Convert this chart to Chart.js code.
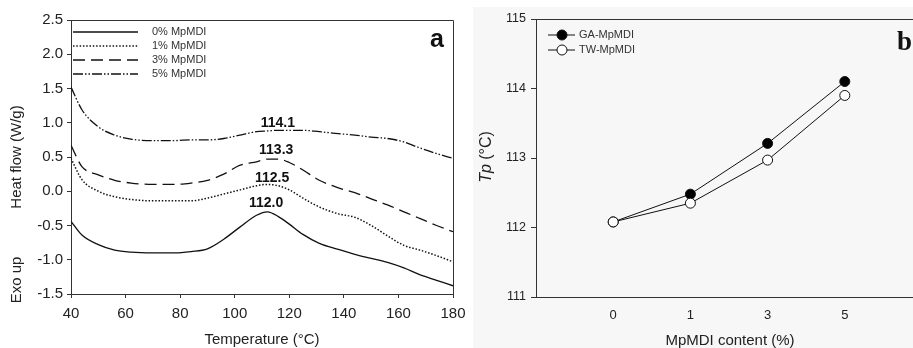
<!DOCTYPE html>
<html>
<head>
<meta charset="utf-8">
<script src="https://cdn.jsdelivr.net/npm/chart.js@4.4.1/dist/chart.umd.min.js"></script>
<style>
  html, body { margin: 0; padding: 0; background: #fff; overflow: hidden; width: 913px; height: 348px; }
  #wrap { position: relative; width: 913px; height: 348px; overflow: hidden; }
  canvas { position: absolute; top: 0; }
  #chartA { left: 0; }
  #chartB { left: 460px; }
</style>
</head>
<body>
<div id="wrap">
  <canvas id="chartA" width="480" height="348"></canvas>
  <canvas id="chartB" width="480" height="348"></canvas>
</div>
<script>
// Panel a - DSC curves
const temps = [40, 44, 50, 56, 62, 70, 78, 84, 90, 96, 102, 108, 112, 116, 120, 125, 131, 138, 144, 150, 156, 162, 168, 174, 180];
const flow0 = [-0.44, -0.64, -0.78, -0.86, -0.89, -0.90, -0.90, -0.88, -0.84, -0.70, -0.52, -0.35, -0.30, -0.37, -0.48, -0.63, -0.76, -0.85, -0.92, -0.98, -1.04, -1.12, -1.22, -1.30, -1.38];
const flow1 = [0.48, 0.17, 0.00, -0.08, -0.12, -0.14, -0.14, -0.14, -0.10, -0.04, 0.02, 0.08, 0.10, 0.08, 0.02, -0.10, -0.23, -0.33, -0.38, -0.50, -0.65, -0.79, -0.86, -0.94, -1.03];
const flow3 = [0.67, 0.36, 0.24, 0.16, 0.12, 0.10, 0.10, 0.12, 0.16, 0.25, 0.38, 0.43, 0.47, 0.47, 0.42, 0.31, 0.16, 0.05, -0.02, -0.11, -0.20, -0.30, -0.40, -0.50, -0.59];
const flow5 = [1.52, 1.19, 0.94, 0.82, 0.76, 0.74, 0.74, 0.75, 0.75, 0.77, 0.82, 0.87, 0.88, 0.89, 0.89, 0.89, 0.87, 0.84, 0.82, 0.79, 0.77, 0.72, 0.63, 0.55, 0.48];
const seriesNames = ['0% MpMDI', '1% MpMDI', '3% MpMDI', '5% MpMDI'];
const peakLabels = ['112.0', '112.5', '113.3', '114.1'];
const peakLabelT = [111.5, 113.7, 115.2, 115.8];
const peakLabelV = [-0.17, 0.19, 0.60, 1.00];

// Panel b - peak temperature
const contentLabels = ['0', '1', '3', '5'];
const gaTp = [112.08, 112.48, 113.21, 114.10];
const twTp = [112.08, 112.35, 112.97, 113.90];

const SANS = "'Liberation Sans', Arial, sans-serif";
const INK = '#222';
const AXIS = '#333';

const dashes = [[], [1.5, 1.8], [12, 6], [10, 2, 1.5, 2, 1.5, 2]];
const widths = [1.3, 1.5, 1.3, 1.3];
const flows = [flow0, flow1, flow3, flow5];

function toPoints(xs, ys) {
  return xs.map((x, i) => ({ x: x, y: ys[i] }));
}

// Chart A
const decoA = {
  id: 'decoA',
  afterDraw(chart) {
    const ctx = chart.ctx;
    const a = chart.chartArea;
    const xs = chart.scales.x, ys = chart.scales.y;
    ctx.save();
    // frame top + right
    ctx.strokeStyle = AXIS;
    ctx.lineWidth = 1;
    ctx.beginPath();
    ctx.moveTo(a.left, a.top + 0.5);
    ctx.lineTo(a.right + 0.5, a.top + 0.5);
    ctx.lineTo(a.right + 0.5, a.bottom);
    ctx.stroke();

    // peak labels
    ctx.fillStyle = '#111';
    ctx.font = 'bold 14px ' + SANS;
    ctx.textAlign = 'center';
    ctx.textBaseline = 'middle';
    peakLabels.forEach((t, i) => {
      ctx.fillText(t, xs.getPixelForValue(peakLabelT[i]), ys.getPixelForValue(peakLabelV[i]));
    });

    // panel letter
    ctx.font = 'bold 25px ' + SANS;
    ctx.fillText('a', 437, 40);

    // legend
    ctx.font = '11px ' + SANS;
    ctx.textAlign = 'left';
    const rows = [32, 46, 60, 74];
    chart.data.datasets.forEach((ds, i) => {
      ctx.strokeStyle = '#111';
      ctx.lineWidth = ds.borderWidth;
      ctx.setLineDash(ds.borderDash || []);
      ctx.beginPath();
      ctx.moveTo(73, rows[i]);
      ctx.lineTo(138, rows[i]);
      ctx.stroke();
      ctx.setLineDash([]);
      ctx.fillStyle = '#333';
      ctx.fillText(ds.label, 152, rows[i]);
    });

    // axis titles
    ctx.fillStyle = INK;
    ctx.font = '15px ' + SANS;
    ctx.textAlign = 'center';
    ctx.fillText('Temperature (\u00B0C)', 262, 340);
    ctx.translate(17, 0);
    ctx.rotate(-Math.PI / 2);
    ctx.fillText('Heat flow (W/g)', -157, 0);
    ctx.fillText('Exo up', -280, 0);
    ctx.restore();
  }
};

new Chart(document.getElementById('chartA'), {
  type: 'line',
  data: {
    datasets: flows.map((f, i) => ({
      label: seriesNames[i],
      data: toPoints(temps, f),
      borderColor: '#111',
      borderWidth: widths[i],
      borderDash: dashes[i],
      pointRadius: 0,
      fill: false,
      cubicInterpolationMode: 'monotone'
    }))
  },
  options: {
    responsive: false,
    animation: false,
    devicePixelRatio: 1,
    layout: { padding: { top: 20, right: 27, left: 0, bottom: 0 } },
    plugins: { legend: { display: false }, tooltip: { enabled: false } },
    scales: {
      x: {
        type: 'linear', min: 40, max: 180,
        ticks: { stepSize: 20, color: INK, font: { family: SANS, size: 15 }, padding: 7, maxRotation: 0 },
        grid: { drawOnChartArea: false, drawTicks: true, tickLength: 4, color: AXIS },
        border: { color: AXIS, width: 1 },
        afterFit(s) { s.height = 54; }
      },
      y: {
        min: -1.5, max: 2.5,
        ticks: { stepSize: 0.5, color: INK, font: { family: SANS, size: 15 }, padding: 4,
          callback: v => Number(v).toFixed(1) },
        grid: { drawOnChartArea: false, drawTicks: true, tickLength: 4, color: AXIS },
        border: { color: AXIS, width: 1 },
        afterFit(s) { s.width = 71; }
      }
    }
  },
  plugins: [decoA]
});

// Chart B
const decoB = {
  id: 'decoB',
  beforeDraw(chart) {
    const ctx = chart.ctx;
    ctx.save();
    ctx.fillStyle = '#f7f7f7';
    ctx.fillRect(13, 7, chart.width - 13, chart.height - 7);
    ctx.restore();
  },
  afterDraw(chart) {
    const ctx = chart.ctx;
    const a = chart.chartArea;
    ctx.save();
    ctx.strokeStyle = AXIS;
    ctx.lineWidth = 1;
    ctx.beginPath();
    ctx.moveTo(a.left, a.top + 0.5);
    ctx.lineTo(a.right, a.top + 0.5);
    ctx.stroke();

    // panel letter
    ctx.fillStyle = '#111';
    ctx.font = "bold 27px 'Liberation Serif', 'Times New Roman', serif";
    ctx.textAlign = 'left';
    ctx.textBaseline = 'alphabetic';
    ctx.fillText('b', 437, 50);

    // legend
    const rows = [35, 50];
    const order = [1, 0];
    ctx.font = '11px ' + SANS;
    ctx.textBaseline = 'middle';
    order.forEach((di, r) => {
      const ds = chart.data.datasets[di];
      const y = rows[r];
      ctx.strokeStyle = '#111';
      ctx.lineWidth = 1;
      ctx.beginPath();
      ctx.moveTo(88, y);
      ctx.lineTo(115, y);
      ctx.stroke();
      ctx.beginPath();
      ctx.arc(102, y, 5, 0, Math.PI * 2);
      ctx.fillStyle = ds.pointBackgroundColor;
      ctx.fill();
      ctx.stroke();
      ctx.fillStyle = '#333';
      ctx.fillText(ds.label, 119, y);
    });

    // axis titles
    ctx.fillStyle = INK;
    ctx.font = '15px ' + SANS;
    ctx.textAlign = 'center';
    ctx.fillText('MpMDI content (%)', 270, 341);
    ctx.translate(27, 157);
    ctx.rotate(-Math.PI / 2);
    ctx.textAlign = 'left';
    const t1 = 'Tp';
    const t2 = ' (\u00B0C)';
    ctx.font = '16px ' + SANS;
    const w2 = ctx.measureText(t2).width;
    ctx.font = 'italic 16px ' + SANS;
    const w1 = ctx.measureText(t1).width;
    const start = -(w1 + w2) / 2;
    ctx.fillText(t1, start, 0);
    ctx.font = '16px ' + SANS;
    ctx.fillText(t2, start + w1, 0);
    ctx.restore();
  }
};

const idx = contentLabels.map((_, i) => i);

new Chart(document.getElementById('chartB'), {
  type: 'line',
  data: {
    datasets: [
      {
        label: 'TW-MpMDI',
        data: toPoints(idx, twTp),
        borderColor: '#111', borderWidth: 1,
        pointRadius: 5, pointBorderWidth: 1,
        pointBackgroundColor: '#fff', pointBorderColor: '#111',
        tension: 0, order: 0
      },
      {
        label: 'GA-MpMDI',
        data: toPoints(idx, gaTp),
        borderColor: '#111', borderWidth: 1,
        pointRadius: 5, pointBorderWidth: 1,
        pointBackgroundColor: '#000', pointBorderColor: '#111',
        tension: 0, order: 1
      }
    ]
  },
  options: {
    responsive: false,
    animation: false,
    devicePixelRatio: 1,
    layout: { padding: { top: 19, right: 18, left: 0, bottom: 0 } },
    plugins: { legend: { display: false }, tooltip: { enabled: false } },
    scales: {
      x: {
        type: 'linear', min: -1, max: 4,
        afterBuildTicks(s) {
          s.ticks = idx.map(v => ({ value: v }));
        },
        ticks: { color: INK, font: { family: SANS, size: 13 }, padding: 11, maxRotation: 0,
          callback: v => contentLabels[v] },
        grid: { drawOnChartArea: false, drawTicks: false, color: AXIS },
        border: { color: AXIS, width: 1 },
        afterFit(s) { s.height = 51; }
      },
      y: {
        min: 111, max: 115,
        ticks: { stepSize: 1, color: INK, font: { family: SANS, size: 12.5 }, padding: 5 },
        grid: { drawOnChartArea: false, drawTicks: true, tickLength: 5, color: AXIS },
        border: { color: AXIS, width: 1 },
        afterFit(s) { s.width = 76; }
      }
    }
  },
  plugins: [decoB]
});
</script>
</body>
</html>
